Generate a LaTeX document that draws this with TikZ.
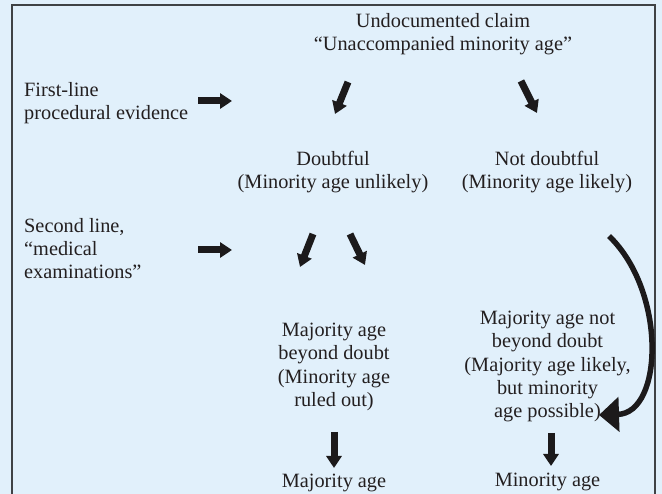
\documentclass[tikz,border=0pt]{standalone}
\usepackage{fontspec}
\setmainfont{Liberation Serif}
\usetikzlibrary{arrows.meta}
\definecolor{bgblue}{HTML}{E1F0FB}
\definecolor{framegray}{HTML}{3F4245}
\definecolor{inkblack}{HTML}{1C1A1B}
\definecolor{txtblack}{HTML}{231F20}
\tikzset{
  txt/.style={inner sep=0pt, align=center, text=txtblack, font=\fontsize{20.3}{23.3}\selectfont},
  blockarrow/.style={draw=inkblack, line width=7pt, -{Triangle[width=15pt,length=12pt]}},
  bendarrow/.style={draw=inkblack, line width=5.5pt, -{Triangle[width=34pt,length=20pt]}},
  frameline/.style={draw=framegray, line width=1.6pt}
}
\begin{document}
\begin{tikzpicture}[x=1pt,y=-1pt]
\fill[bgblue] (0,0) rectangle (662,494);
\useasboundingbox (0,0) rectangle (662,494);
\draw[frameline] (12,494) -- (12,5) -- (655,5) -- (655,494);

% texts
\node[txt, anchor=north] (title) at (443,13) {Undocumented claim\\“Unaccompanied minority age”};
\node[txt, anchor=north west, align=left] (first) at (24,82) {First-line\\procedural evidence};
\node[txt, anchor=north] (doubt) at (333,151) {Doubtful\\(Minority age unlikely)};
\node[txt, anchor=north] (notdoubt) at (547,151) {Not doubtful\\(Minority age likely)};
\node[txt, anchor=north west, align=left] (second) at (24,218) {Second line,\\“medical\\examinations”};
\node[txt, anchor=north] (majbeyond) at (334,323) {Majority age\\beyond doubt\\(Minority age\\ruled out)};
\node[txt, anchor=north] (majnot) at (547.5,311) {Majority age not\\beyond doubt\\(Majority age likely,\\but minority\\age possible)};
\node[txt, anchor=north] (majfinal) at (334,474) {Majority age};
\node[txt, anchor=north] (minfinal) at (547.5,473) {Minority age};

% arrow end points
\coordinate (a1s) at (198,101); \coordinate (a1e) at (232,101);
\coordinate (a2s) at (198,250); \coordinate (a2e) at (232,250);
\coordinate (b1s) at (348,82);  \coordinate (b1e) at (335,114);
\coordinate (b2s) at (521,81);  \coordinate (b2e) at (537,113);
\coordinate (c1s) at (313,234); \coordinate (c1e) at (300,267);
\coordinate (c2s) at (350,234); \coordinate (c2e) at (365,265);
\coordinate (d1s) at (334,432); \coordinate (d1e) at (334,468);
\coordinate (d2s) at (551,433); \coordinate (d2e) at (551,466);
\coordinate (es) at (609,236);  \coordinate (ee) at (599,415);

\draw[blockarrow] (a1s) -- (a1e);
\draw[blockarrow] (a2s) -- (a2e);
\draw[blockarrow] (b1s) -- (b1e);
\draw[blockarrow] (b2s) -- (b2e);
\draw[blockarrow] (c1s) -- (c1e);
\draw[blockarrow] (c2s) -- (c2e);
\draw[blockarrow] (d1s) -- (d1e);
\draw[blockarrow] (d2s) -- (d2e);
\draw[bendarrow] (es) .. controls (667,292) and (663,413) .. (ee);
\end{tikzpicture}
\end{document}
